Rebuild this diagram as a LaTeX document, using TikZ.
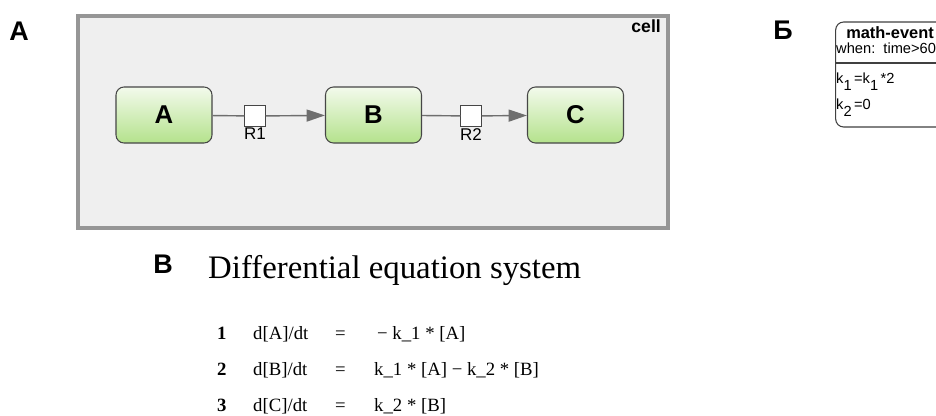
\documentclass[tikz,border=0pt]{standalone}
\usepackage{fontspec}
\setmainfont{Liberation Serif}
\setsansfont{Liberation Sans}
\usetikzlibrary{arrows.meta, positioning}
\definecolor{cellgray}{RGB}{239,239,239}
\definecolor{cellborder}{RGB}{150,150,150}
\definecolor{nodetop}{RGB}{243,250,236}
\definecolor{nodebot}{RGB}{180,226,140}
\definecolor{nodeborder}{RGB}{70,70,70}
\definecolor{linkgray}{RGB}{110,110,110}
\newcommand{\ksub}[1]{k\raisebox{-1ex}{#1}}
\tikzset{
    % panel letters
    panellbl/.style={font=\sffamily\bfseries\fontsize{23}{26}\selectfont},
    % reaction scheme
    cellbox/.style={rectangle, draw=cellborder, line width=0.12cm, fill=cellgray,
                minimum width=17.7cm, minimum height=6.36cm},
    celllbl/.style={font=\sffamily\bfseries\fontsize{15}{17}\selectfont, inner sep=0pt},
    species/.style={rectangle, rounded corners=0.24cm, draw=nodeborder, line width=0.9pt,
                top color=nodetop, bottom color=nodebot,
                minimum width=2.88cm, minimum height=1.68cm,
                font=\sffamily\bfseries\fontsize{22}{24}\selectfont},
    reac/.style={rectangle, draw=nodeborder, fill=white, line width=0.7pt,
                minimum size=0.62cm, inner sep=0pt},
    reaclbl/.style={font=\sffamily\fontsize{14.5}{16}\selectfont, inner sep=0pt},
    rline/.style={line width=1.2pt, linkgray},
    rarrow/.style={-{Triangle[length=0.55cm, width=0.36cm]}, line width=1.2pt, linkgray},
    % event
    evbox/.style={rectangle, rounded corners=0.24cm, draw=black!75, line width=0.9pt,
                fill=white, minimum width=4.1cm, minimum height=3.15cm},
    evhead/.style={font=\sffamily\bfseries\fontsize{14}{16}\selectfont, inner sep=0pt, anchor=base west},
    evtxt/.style={font=\sffamily\fontsize{12.5}{14}\selectfont, inner sep=0pt, anchor=base west},
    % equations
    eqtitle/.style={font=\fontsize{28}{32}\selectfont, inner sep=0pt, anchor=base west},
    eqtxt/.style={font=\fontsize{16}{18}\selectfont, inner sep=0pt, anchor=base west},
    eqnum/.style={font=\bfseries\fontsize{16}{18}\selectfont, inner sep=0pt, anchor=base west},
}

\begin{document}
\begin{tikzpicture}[x=0.03cm, y=-0.03cm]
\useasboundingbox (0,0) rectangle (936,415);

% panel A: reaction scheme
\node[panellbl] (lblA) at (19,31) {А};
\node[cellbox] (cell) at (373,122) {};
\node[celllbl, anchor=base east] (celltag) at (661,32) {cell};

\node[species] (a) at (164,115) {A};
\node[species] (b) at (373.5,115) {B};
\node[species] (c) at (575.5,115) {C};
\node[reac] (r1) at (255,116) {};
\node[reac] (r2) at (471,116) {};
\node[reaclbl, below=1pt of r1] (r1lbl) {R1};
\node[reaclbl, below=1pt of r2] (r2lbl) {R2};

\draw[rline] (a) -- (r1);
\draw[rarrow] (r1) -- (b);
\draw[rline] (b) -- (r2);
\draw[rarrow] (r2) -- (c);

% panel B: event
\node[panellbl] (lblB) at (783,30) {Б};
\node[evbox] (ev) at (904,74.5) {};
\draw[line width=0.9pt, black!75] (ev.west |- 0,63) -- (ev.east |- 0,63);
\node[evhead] (evname) at (846,38) {math-event};
\node[evtxt] (evwhen) at (836,53) {when:\ \ time>60};
\node[evtxt] (evk1) at (836,83) {\ksub{1}\,=\ksub{1}\,*2};
\node[evtxt] (evk2) at (836,109) {\ksub{2}\,=0};

% panel C: equations
\node[panellbl] (lblC) at (163,264) {В};
\node[eqtitle] (title) at (208,278) {Differential equation system};

\node[eqnum] (n1) at (217,339) {1};
\node[eqtxt] (l1) at (253,339) {d[A]/dt};
\node[eqtxt] (e1) at (335,339) {=};
\node[eqtxt] (r1rhs) at (377,339) {− k\_1 * [A]};

\node[eqnum] (n2) at (217,375) {2};
\node[eqtxt] (l2) at (253,375) {d[B]/dt};
\node[eqtxt] (e2) at (335,375) {=};
\node[eqtxt] (r2rhs) at (374,375) {k\_1 * [A] − k\_2 * [B]};

\node[eqnum] (n3) at (217,411) {3};
\node[eqtxt] (l3) at (253,411) {d[C]/dt};
\node[eqtxt] (e3) at (335,411) {=};
\node[eqtxt] (r3rhs) at (374,411) {k\_2 * [B]};
\end{tikzpicture}
\end{document}
